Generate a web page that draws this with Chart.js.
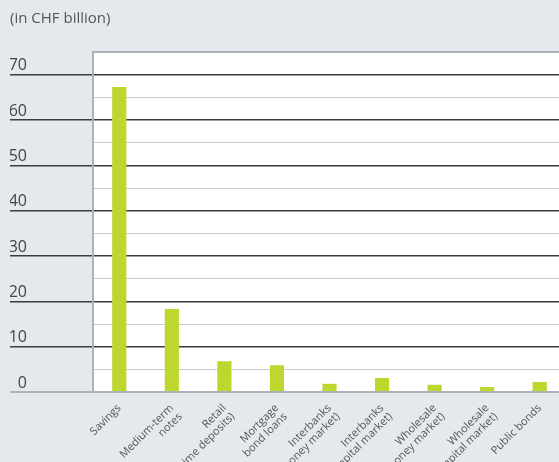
<!DOCTYPE html>
<html>
<head>
<meta charset="utf-8">
<script src="https://cdn.jsdelivr.net/npm/chart.js@4.4.0/dist/chart.umd.min.js"></script>
<style>
  html, body { margin: 0; padding: 0; background: #e5e8ec; overflow: hidden; }
  #wrap { width: 566px; height: 462px; }
</style>
</head>
<body>
<div id="wrap"><canvas id="fundingChart"></canvas></div>
<script>
// funding sources (in CHF billion)
const categories = [
  "Savings",
  ["Medium-term", "notes"],
  ["Retail", "(time deposits)"],
  ["Mortgage", "bond loans"],
  ["Interbanks", "(money market)"],
  ["Interbanks", "(capital market)"],
  ["Wholesale", "(money market)"],
  ["Wholesale", "(capital market)"],
  "Public bonds"
];
const amounts = [67.3, 18.3, 6.8, 5.9, 1.8, 3.1, 1.6, 1.1, 2.2];
const yMax = 75;
const yStep = 5;

const bgGrey = "#e5e8ec";
const borderGrey = "#a9b3bc";

// grey page + white plot box
const plotBackground = {
  id: "plotBackground",
  beforeDraw(chart) {
    const { ctx, chartArea } = chart;
    ctx.save();
    ctx.fillStyle = bgGrey;
    ctx.fillRect(0, 0, chart.width, chart.height);
    ctx.fillStyle = "#ffffff";
    ctx.fillRect(chartArea.left, chartArea.top, chartArea.right - chartArea.left, chartArea.bottom - chartArea.top);
    ctx.restore();
  }
};

function lineColor(v) {
  if (v === 0 || v === yMax) return borderGrey;
  if (v % 10 === 0) return "#3c3c3c";
  return "#c5cdd5";
}

new Chart("fundingChart", {
  type: "bar",
  data: {
    labels: categories,
    datasets: [
      {
        data: amounts,
        backgroundColor: "#bfd62f",
        categoryPercentage: 1,
        barPercentage: 0.27
      }
    ]
  },
  options: {
    responsive: true,
    maintainAspectRatio: false,
    animation: false,
    layout: { padding: { left: 10, right: 0, top: 0, bottom: 0 } },
    plugins: {
      legend: { display: false },
      tooltip: { enabled: false },
      title: {
        display: true,
        text: "(in CHF billion)",
        align: "start",
        color: "#555",
        font: { family: "Open Sans", size: 15, weight: "normal" },
        padding: { top: 10, bottom: 24 }
      }
    },
    scales: {
      y: {
        min: 0,
        max: yMax,
        afterFit(scale) { scale.width = 83; },
        border: { display: true, color: borderGrey, width: 2 },
        grid: {
          drawTicks: true,
          tickLength: 83,
          color: (c) => lineColor(c.tick.value),
          tickColor: (c) => (c.tick.value % 10 === 0 ? lineColor(c.tick.value) : "transparent"),
          lineWidth: (c) => (c.tick.value === 0 || c.tick.value === yMax ? 2 : (c.tick.value % 10 === 0 ? 1.5 : 1))
        },
        ticks: {
          stepSize: yStep,
          crossAlign: "near",
          labelOffset: -9,
          padding: -17,
          color: "#444",
          font: { family: "Open Sans", size: 16 },
          callback: (v) => (v % 10 === 0 && v !== yMax ? v : "")
        }
      },
      x: {
        afterFit(scale) { scale.height = 70; },
        border: { display: true, color: borderGrey, width: 2 },
        grid: { display: false },
        ticks: {
          maxRotation: 45,
          minRotation: 45,
          padding: 2,
          color: "#555",
          font: { family: "Open Sans", size: 11, lineHeight: 1.1 }
        }
      }
    }
  },
  plugins: [plotBackground]
});
</script>
</body>
</html>
